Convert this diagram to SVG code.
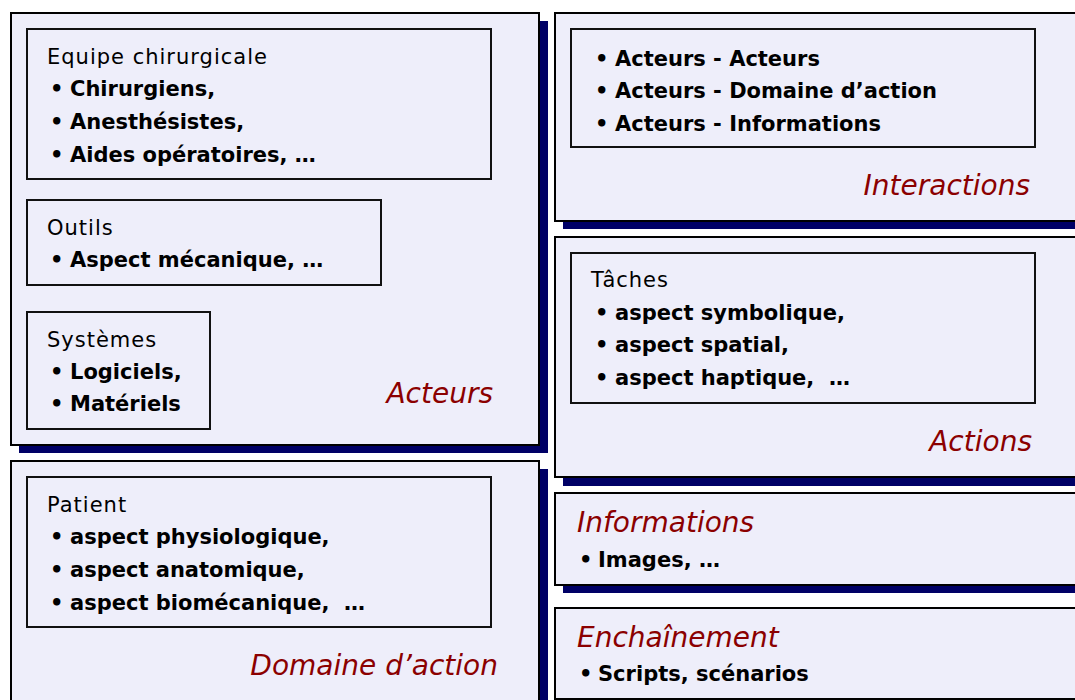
<svg xmlns="http://www.w3.org/2000/svg" width="1075" height="700" viewBox="0 0 1075 700">
<style>
.shadow{fill:#000066;stroke:none}
.panel{fill:#EEEEFA;stroke:#000;stroke-width:2}
.box{fill:#EEEEFA;stroke:#111;stroke-width:2}
.head{font-family:"DejaVu Sans",sans-serif;font-size:21px;fill:#000;letter-spacing:1px}
.item{font-family:"DejaVu Sans",sans-serif;font-size:21px;font-weight:bold;fill:#000;white-space:pre}
.title{font-family:"DejaVu Sans",sans-serif;font-size:28px;font-style:italic;fill:#8B0000}
</style>
<rect width="1075" height="700" fill="#fff"/>

<g id="acteurs">
<rect class="shadow" x="19" y="21" width="529" height="432"/>
<rect class="panel" x="11" y="13" width="528" height="432"/>
<g id="equipe">
<rect class="box" x="27" y="29" width="464" height="150"/>
<text class="head" x="47" y="64">Equipe chirurgicale</text>
<text class="item" x="50" y="96">•</text><text class="item" x="70" y="96">Chirurgiens,</text>
<text class="item" x="50" y="129">•</text><text class="item" x="70" y="129">Anesthésistes,</text>
<text class="item" x="50" y="162">•</text><text class="item" x="70" y="162">Aides opératoires, …</text>
</g>
<g id="outils">
<rect class="box" x="27" y="200" width="354" height="85"/>
<text class="head" x="47" y="235">Outils</text>
<text class="item" x="50" y="267">•</text><text class="item" x="70" y="267">Aspect mécanique, …</text>
</g>
<g id="systemes">
<rect class="box" x="27" y="312" width="183" height="117"/>
<text class="head" x="47" y="347">Systèmes</text>
<text class="item" x="50" y="379">•</text><text class="item" x="70" y="379">Logiciels,</text>
<text class="item" x="50" y="411">•</text><text class="item" x="70" y="411">Matériels</text>
</g>
<text class="title" x="493" y="403" text-anchor="end">Acteurs</text>
</g>

<g id="domaine">
<rect class="shadow" x="19" y="469" width="529" height="260"/>
<rect class="panel" x="11" y="461" width="528" height="260"/>
<g id="patient">
<rect class="box" x="27" y="477" width="464" height="150"/>
<text class="head" x="47" y="512">Patient</text>
<text class="item" x="50" y="544">•</text><text class="item" x="70" y="544">aspect physiologique,</text>
<text class="item" x="50" y="577">•</text><text class="item" x="70" y="577">aspect anatomique,</text>
<text class="item" x="50" y="610">•</text><text class="item" x="70" y="610" xml:space="preserve">aspect biomécanique,  …</text>
</g>
<text class="title" x="498" y="675" text-anchor="end">Domaine d’action</text>
</g>

<g id="interactions">
<rect class="shadow" x="563" y="21" width="530" height="208"/>
<rect class="panel" x="555" y="13" width="530" height="208"/>
<g id="interactions-list">
<rect class="box" x="571" y="29" width="464" height="118"/>
<text class="item" x="595" y="66">•</text><text class="item" x="615" y="66">Acteurs - Acteurs</text>
<text class="item" x="595" y="98">•</text><text class="item" x="615" y="98">Acteurs - Domaine d’action</text>
<text class="item" x="595" y="131">•</text><text class="item" x="615" y="131">Acteurs - Informations</text>
</g>
<text class="title" x="1030" y="195" text-anchor="end">Interactions</text>
</g>

<g id="actions">
<rect class="shadow" x="563" y="245" width="530" height="241"/>
<rect class="panel" x="555" y="237" width="530" height="240"/>
<g id="taches">
<rect class="box" x="571" y="253" width="464" height="150"/>
<text class="head" x="591" y="287">Tâches</text>
<text class="item" x="595" y="320">•</text><text class="item" x="615" y="320">aspect symbolique,</text>
<text class="item" x="595" y="352">•</text><text class="item" x="615" y="352">aspect spatial,</text>
<text class="item" x="595" y="385">•</text><text class="item" x="615" y="385" xml:space="preserve">aspect haptique,  …</text>
</g>
<text class="title" x="1032" y="451" text-anchor="end">Actions</text>
</g>

<g id="informations">
<rect class="shadow" x="563" y="501" width="530" height="92"/>
<rect class="panel" x="555" y="493" width="530" height="92"/>
<text class="title" x="577" y="532">Informations</text>
<text class="item" x="579" y="567">•</text><text class="item" x="598" y="567">Images, …</text>
</g>

<g id="enchainement">
<rect class="shadow" x="563" y="616" width="530" height="92"/>
<rect class="panel" x="555" y="608" width="530" height="91"/>
<text class="title" x="577" y="647">Enchaînement</text>
<text class="item" x="579" y="681">•</text><text class="item" x="598" y="681">Scripts, scénarios</text>
</g>

<g id="connectors"></g>
</svg>
